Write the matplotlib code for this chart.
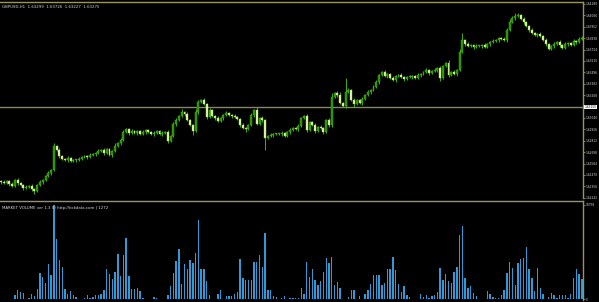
import numpy as np  # Operaciones numéricas
import matplotlib
matplotlib.use("Agg")
import matplotlib.pyplot as plt  # Gráficos
import matplotlib.transforms as mtransforms


# -------------------------------------------------
# 1. Datos (GBPUSD H1)
# -------------------------------------------------
titulo = "GBPUSD,H1  1.63299  1.63726  1.63227  1.63275"
titulo_volumen = "MARKET VOLUME ver 1.3 (I) http://tickdata.com | 1272"

# Cierres de cada vela (la apertura es el cierre anterior)
cierres = [
    1.6240, 1.6239, 1.6241, 1.6238, 1.6236, 1.6242, 1.6239, 1.6237, 1.6234, 1.6235,
    1.6236, 1.6233, 1.6231, 1.6237, 1.6240, 1.6242, 1.6246, 1.6249, 1.6252, 1.6276,
    1.6272, 1.6266, 1.6263, 1.6262, 1.6264, 1.6261, 1.6262, 1.6262, 1.6263, 1.6265,
    1.6266, 1.6265, 1.6267, 1.6268, 1.6269, 1.6271, 1.6272, 1.6269, 1.6273, 1.6267,
    1.6271, 1.6276, 1.6279, 1.6282, 1.6290, 1.6293, 1.6289, 1.6291, 1.6289, 1.6291,
    1.6288, 1.6290, 1.6292, 1.6290, 1.6288, 1.6289, 1.6291, 1.6288, 1.6289, 1.6290,
    1.6281, 1.6286, 1.6298, 1.6302, 1.6306, 1.6310, 1.6308, 1.6302, 1.6297, 1.6291,
    1.6310, 1.6320, 1.6322, 1.6318, 1.6305, 1.6312, 1.6306, 1.6304, 1.6301, 1.6304,
    1.6307, 1.6309, 1.6307, 1.6306, 1.6305, 1.6303, 1.6297, 1.6294, 1.6293, 1.6297,
    1.6307, 1.6312, 1.6298, 1.6304, 1.6302, 1.6284, 1.6286, 1.6287, 1.6288, 1.6288,
    1.6288, 1.6289, 1.6286, 1.6290, 1.6292, 1.6294, 1.6293, 1.6296, 1.6304, 1.6306,
    1.6292, 1.6300, 1.6297, 1.6291, 1.6295, 1.6294, 1.6290, 1.6302, 1.6297, 1.6325,
    1.6329, 1.6327, 1.6319, 1.6316, 1.6330, 1.6332, 1.6322, 1.6318, 1.6322, 1.6319,
    1.6323, 1.6327, 1.6330, 1.6332, 1.6335, 1.6340, 1.6347, 1.6350, 1.6346, 1.6348,
    1.6344, 1.6342, 1.6346, 1.6347, 1.6345, 1.6343, 1.6345, 1.6345, 1.6346, 1.6344,
    1.6347, 1.6348, 1.6350, 1.6352, 1.6349, 1.6351, 1.6352, 1.6354, 1.6344, 1.6356,
    1.6359, 1.6347, 1.6350, 1.6348, 1.6352, 1.6370, 1.6382, 1.6378, 1.6376, 1.6377,
    1.6375, 1.6376, 1.6376, 1.6377, 1.6375, 1.6378, 1.6380, 1.6381, 1.6382, 1.6384,
    1.6383, 1.6382, 1.6392, 1.6400, 1.6404, 1.6406, 1.6407, 1.6403, 1.6400, 1.6396,
    1.6392, 1.6389, 1.6387, 1.6388, 1.6386, 1.6382, 1.6378, 1.6373, 1.6376, 1.6378,
    1.6380, 1.6377, 1.6374, 1.6378, 1.6379, 1.6377, 1.6381, 1.6380, 1.6383, 1.6384,
]
apertura_inicial = 1.6241

# Mechas superiores e inferiores (en pips)
mecha_sup = [
    1, 2, 1, 1, 2, 1, 2, 1, 1, 2, 1, 2, 1, 1, 2, 1, 1, 2, 1, 3,
    1, 2, 1, 1, 2, 1, 1, 1, 2, 1, 1, 1, 2, 1, 1, 2, 1, 2, 1, 1,
    1, 3, 1, 2, 2, 1, 1, 2, 1, 1, 1, 2, 1, 1, 1, 2, 1, 1, 2, 1,
    2, 1, 2, 2, 1, 3, 1, 2, 1, 1, 3, 2, 1, 2, 1, 2, 1, 1, 2, 1,
    1, 2, 1, 1, 2, 1, 1, 2, 1, 1, 2, 1, 3, 1, 2, 1, 1, 2, 1, 1,
    1, 2, 1, 1, 2, 1, 1, 2, 1, 1, 2, 1, 1, 2, 1, 2, 1, 1, 2, 4,
    1, 2, 3, 1, 14, 2, 1, 2, 1, 1, 2, 1, 2, 1, 2, 2, 1, 1, 2, 1,
    1, 2, 1, 1, 2, 1, 1, 2, 1, 1, 2, 1, 1, 2, 1, 1, 2, 1, 2, 1,
    1, 3, 1, 2, 1, 3, 7, 1, 2, 1, 1, 2, 1, 1, 2, 1, 1, 2, 1, 1,
    1, 2, 2, 3, 2, 3, 2, 1, 2, 1, 1, 2, 1, 1, 2, 1, 2, 1, 1, 2,
    1, 2, 1, 2, 1, 1, 2, 1, 2, 2,
]
mecha_inf = [
    2, 1, 1, 2, 1, 1, 2, 1, 2, 1, 1, 2, 3, 1, 1, 2, 1, 1, 2, 1,
    1, 2, 1, 1, 2, 1, 1, 2, 1, 1, 1, 2, 1, 1, 2, 1, 1, 2, 1, 1,
    2, 1, 1, 2, 1, 1, 2, 1, 1, 2, 1, 1, 2, 1, 1, 2, 1, 1, 2, 1,
    2, 1, 1, 2, 1, 1, 2, 1, 1, 4, 1, 2, 1, 1, 2, 1, 1, 2, 1, 1,
    2, 1, 1, 2, 1, 1, 2, 1, 3, 1, 1, 2, 1, 1, 2, 12, 1, 1, 2, 1,
    1, 2, 1, 1, 2, 1, 1, 2, 1, 1, 2, 1, 1, 2, 1, 1, 2, 1, 2, 2,
    1, 2, 1, 1, 2, 1, 1, 3, 1, 1, 2, 1, 1, 2, 1, 1, 2, 1, 1, 2,
    1, 1, 2, 1, 1, 2, 1, 1, 2, 1, 1, 2, 1, 1, 2, 1, 1, 2, 3, 1,
    1, 2, 1, 1, 2, 1, 1, 2, 1, 1, 2, 1, 1, 2, 1, 1, 2, 1, 1, 2,
    1, 1, 2, 1, 1, 2, 1, 1, 2, 1, 2, 1, 1, 2, 1, 1, 2, 1, 1, 2,
    1, 2, 1, 1, 2, 1, 1, 2, 1, 1,
]

# Volumen por vela (las primeras 5 sin dato)
volumen = [
    0, 0, 0, 0, 0,
    800, 1930, 1460, 1330, 60, 270, 1000, 600, 2060, 5120,
    4320, 3130, 6980, 4720, 18758, 11900, 7780, 6450, 2130, 1000,
    1600, 930, 470, 60, 60, 270, 800, 270, 470, 930,
    870, 1000, 1930, 5990, 4990, 3990, 5320, 8980, 4660, 8780,
    12100, 4660, 2130, 2130, 2260, 1660, 330, 60, 130, 40,
    470, 330, 130, 60, 60, 930, 2590, 5120, 7650, 9910,
    2990, 6980, 5920, 7780, 7120, 9110, 15760, 5920, 5920, 3660,
    930, 60, 40, 1000, 1800, 60, 600, 600, 600, 1130,
    1460, 7910, 4120, 3790, 3790, 3920, 7320, 7320, 8780, 6320,
    13100, 1800, 1930, 670, 470, 60, 330, 600, 130, 330,
    330, 330, 330,
    2330, 1130, 7320, 4320, 5990, 3790, 2790, 3590, 5390, 8110,
    7120, 8450, 2790, 3330, 2260, 60, 20, 470, 1930, 1800,
    130, 600, 130, 1000, 1800, 2930, 4790, 4790, 4790, 2790,
    3260, 5990, 5990, 8310, 5790, 2990, 1460, 2590, 930, 470,
    20, 40, 130, 1130, 470, 800, 330, 600, 800, 1460,
    6120, 3920, 4990, 3660, 3260, 5320, 6320, 12770, 14560, 4120,
    2330, 2660, 1260, 600, 60, 130, 60, 1600, 1000, 470,
    270, 330, 800, 1930, 5120, 7450, 6250, 2790, 7120, 7980,
    8250, 10310, 5920, 4120, 1660, 6120, 2330, 1000, 60, 470,
    1330, 800, 270, 800, 930, 800, 270, 1000, 4120, 5990,
    4990, 3990,
]
volumen_max = 18758

# Escala de precios del eje derecho y línea horizontal
ticks_precio = [1.64180, 1.64066, 1.63952, 1.63838, 1.63724, 1.63610, 1.63496,
                1.63382, 1.63268, 1.63040, 1.62926, 1.62812, 1.62698, 1.62584,
                1.62470, 1.62356, 1.62242]
precio_linea = 1.63150

# -------------------------------------------------
# 2. Colores estilo MetaTrader
# -------------------------------------------------
FONDO = "#000000"
BORDE = "#9a9462"
TEXTO = "#d8d8d8"
MECHA = "#3fae0a"
ALCISTA = "#2a8a06"
BAJISTA = "#e6f5c4"
VOL = "#2f9ad6"
FUENTE = 2.1

# -------------------------------------------------
# 3. Figura y paneles
# -------------------------------------------------
W, H = 599, 302
fig = plt.figure(figsize=(W / 100, H / 100), dpi=100, facecolor=FONDO)

ax = fig.add_axes([0, 1 - 198 / H, 583 / W, 196 / H], facecolor=FONDO)
axv = fig.add_axes([0, 1 - 300 / H, 583 / W, 99 / H], facecolor=FONDO)

n = len(cierres)
x = np.arange(n)
c = np.array(cierres)
o = np.concatenate([[apertura_inicial], c[:-1]])
alto = np.maximum(o, c) + np.array(mecha_sup) * 0.0001
bajo = np.minimum(o, c) - np.array(mecha_inf) * 0.0001

# Línea horizontal (dibujada primero para quedar detrás de las velas)
ax.axhline(precio_linea, color="#8c8650", lw=1.0, zorder=1)

# Mechas
ax.vlines(x, bajo, alto, color=MECHA, lw=0.7, zorder=2)

# Cuerpos de las velas
sube = c >= o
cuerpo = np.maximum(np.abs(c - o), 0.00005)
colores = np.where(sube, ALCISTA, BAJISTA)
bordes = np.where(sube, "#47c40f", "#9be04a")
ax.bar(x, cuerpo, bottom=np.minimum(o, c), width=0.7, color=colores,
       edgecolor=bordes, linewidth=0.3, zorder=3)

ax.set_xlim(-0.4, 209.4)
ax.set_ylim(1.6224, 1.6420)

# Volumen
axv.bar(x, volumen, width=0.5, color=VOL, linewidth=0)
axv.set_xlim(-0.4, 209.4)
axv.set_ylim(-150, volumen_max * 1.04)

# -------------------------------------------------
# 4. Ejes, bordes y textos
# -------------------------------------------------
for a in (ax, axv):
    a.set_xticks([])
    for lado in ("left", "bottom"):
        a.spines[lado].set_visible(False)
    for lado in ("top", "right"):
        a.spines[lado].set_color(BORDE)
        a.spines[lado].set_linewidth(1.0)
    a.yaxis.tick_right()
    a.tick_params(axis="y", length=1.2, width=0.6, color=BORDE,
                  labelsize=FUENTE, labelcolor=TEXTO, pad=0.5)

ax.set_yticks(ticks_precio)
ax.set_yticklabels([f"{t:.5f}" for t in ticks_precio])

axv.set_yticks([0, volumen_max])
axv.set_yticklabels(["0", str(volumen_max)])

# Etiqueta resaltada de la línea horizontal
trans = mtransforms.blended_transform_factory(ax.transAxes, ax.transData)
ax.text(1.003, precio_linea, f"{precio_linea:.5f}", transform=trans,
        fontsize=FUENTE, color="#000000", va="center", ha="left",
        bbox=dict(boxstyle="square,pad=0.1", fc="#ffffff", ec="none"))

# Títulos de los paneles
ax.text(0.004, 0.985, titulo, transform=ax.transAxes, fontsize=2.8,
        color=TEXTO, va="top", ha="left")
axv.text(0.004, 0.95, titulo_volumen, transform=axv.transAxes,
         fontsize=2.8, color=TEXTO, va="top", ha="left")

fig.savefig("out.png", dpi=100, facecolor=FONDO)
